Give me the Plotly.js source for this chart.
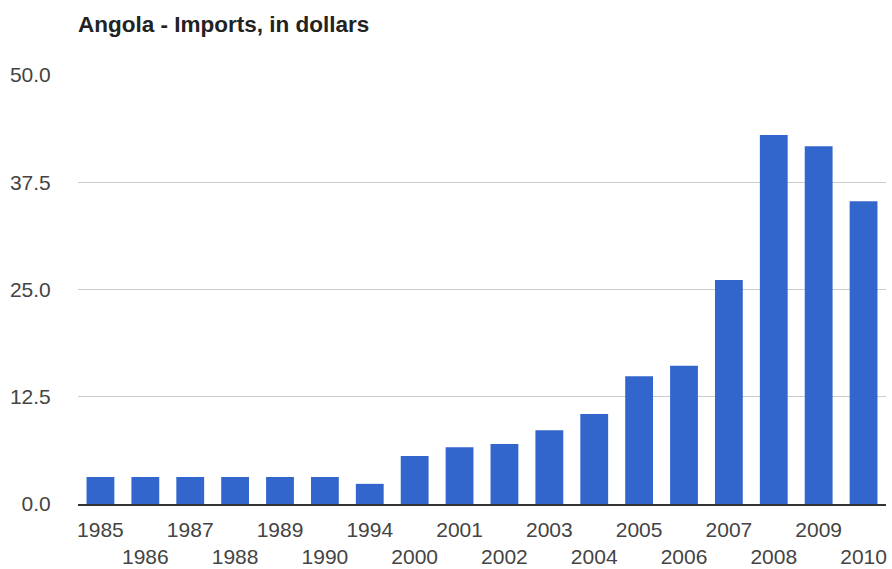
<!DOCTYPE html>
<html>
<head>
<meta charset="utf-8">
<script src="https://cdn.plot.ly/plotly-3.0.1.min.js"></script>
<style>
html,body{margin:0;padding:0;background:#fff;}
#chart{width:892px;height:569px;}
</style>
</head>
<body>
<div id="chart"></div>
<script>
var years = ['1985','1986','1987','1988','1989','1990','1994','2000','2001','2002','2003','2004','2005','2006','2007','2008','2009','2010'];
var imports = [3.15, 3.15, 3.15, 3.15, 3.15, 3.15, 2.35, 5.6, 6.6, 7.0, 8.6, 10.5, 14.9, 16.1, 26.1, 43.0, 41.7, 35.3];
var yTickVals = [0, 12.5, 25, 37.5, 50];
var yTickText = ['0.0', '12.5', '25.0', '37.5', '50.0'];
var chartTitle = 'Angola - Imports, in dollars';

var xTickText = years.map(function (y, i) { return i % 2 === 0 ? y : ' <br>' + y; });

var fontFam = '"Liberation Sans", Arial, sans-serif';

Plotly.newPlot('chart', [{
  type: 'bar',
  x: years,
  y: imports,
  marker: {color: '#3366cc', line: {width: 0}},
  hoverinfo: 'x+y'
}], {
  width: 892,
  height: 569,
  margin: {l: 78, r: 5.5, t: 75, b: 65, pad: 0},
  paper_bgcolor: '#ffffff',
  plot_bgcolor: '#ffffff',
  bargap: 0.38,
  showlegend: false,
  font: {family: fontFam, color: '#444444', size: 21},
  title: {
    text: chartTitle,
    font: {family: fontFam, size: 22.5, color: '#222222', weight: 'bold'},
    x: 0, xref: 'paper', xanchor: 'left',
    y: 1 - 24.5 / 569, yref: 'container', yanchor: 'middle'
  },
  xaxis: {
    type: 'category',
    tickmode: 'array',
    tickvals: years,
    ticktext: xTickText,
    tickangle: 0,
    ticks: 'outside',
    ticklen: 6,
    tickcolor: 'rgba(0,0,0,0)',
    showgrid: false,
    showline: true,
    linecolor: '#333333',
    linewidth: 1.5,
    tickfont: {family: fontFam, size: 21, color: '#444444'}
  },
  yaxis: {
    range: [0, 50],
    tickmode: 'array',
    tickvals: yTickVals,
    ticktext: yTickText,
    showgrid: true,
    gridcolor: '#cccccc',
    gridwidth: 1,
    zeroline: false,
    showline: false,
    ticks: 'outside',
    ticklen: 22,
    tickcolor: 'rgba(0,0,0,0)',
    tickfont: {family: fontFam, size: 21, color: '#444444'}
  }
}, {staticPlot: true, displayModeBar: false});
</script>
</body>
</html>
